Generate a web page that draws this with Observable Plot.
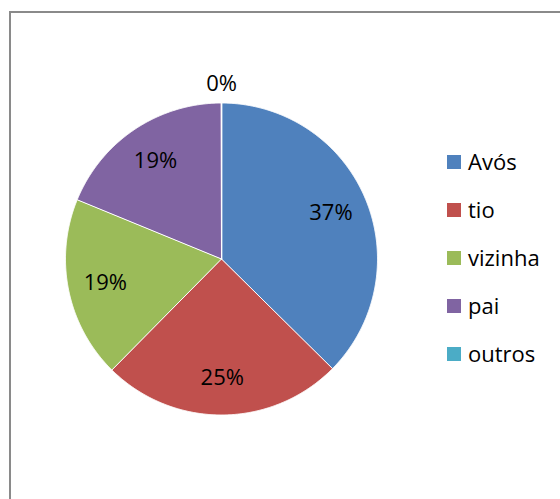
<!DOCTYPE html>
<html>
<head>
<meta charset="utf-8">
<script src="https://cdn.jsdelivr.net/npm/d3@7"></script>
<script src="https://cdn.jsdelivr.net/npm/@observablehq/plot@0.6"></script>
<style>
  html, body { margin: 0; padding: 0; background: #fff; overflow: hidden; }
  #wrap { position: relative; width: 560px; height: 499px; overflow: hidden; }
  #frame { position: absolute; left: 9px; top: 11px; width: 620px; height: 620px;
           border: 2px solid #8a8a8a; box-sizing: border-box; }
  #chart { position: absolute; left: 0; top: 0; }
  #legend { position: absolute; left: 447px; top: 143px; font-family: "Open Sans", sans-serif;
            font-size: 22px; color: #000; }
  .item { position: absolute; left: 0; height: 38px; white-space: nowrap; }
  .sw { position: absolute; left: 0; width: 14px; height: 14px; }
  .lb { position: absolute; left: 21px; line-height: 22px; }
</style>
</head>
<body>
<div id="wrap">
  <div id="frame"></div>
  <div id="chart"></div>
  <div id="legend"></div>
</div>
<script>
// Data
const categories = ["Avós", "tio", "vizinha", "pai", "outros"];
const values = [37.4, 25.0, 18.8, 18.8, 0];
const colors = ["#4F81BD", "#C0504D", "#9BBB59", "#8064A2", "#4BACC6"];

// Layout
const cx = 221, cy = 258.5, R = 156;

const arcs = d3.pie().sort(null).value(d => d)(values);

// Polygon points for each slice (in unit-radius coordinates)
const polys = [];
arcs.forEach((a, i) => {
  const cat = categories[i];
  polys.push({cat, x: 0, y: 0});
  const span = a.endAngle - a.startAngle;
  const n = Math.max(1, Math.ceil(span / 0.005));
  for (let k = 0; k <= n; k++) {
    const t = a.startAngle + span * k / n;
    polys.push({cat, x: Math.sin(t), y: Math.cos(t)});
  }
});

// Labels
const labels = arcs.map((a, i) => {
  const m = (a.startAngle + a.endAngle) / 2;
  const r = values[i] > 0 ? 0.76 : 1.12;
  return {x: r * Math.sin(m), y: r * Math.cos(m), text: Math.round(values[i]) + "%"};
});

const chart = Plot.plot({
  width: 560,
  height: 499,
  margin: 0,
  style: {background: "transparent", overflow: "visible"},
  x: {domain: [-1, 1], range: [cx - R, cx + R], axis: null},
  y: {domain: [-1, 1], range: [cy + R, cy - R], axis: null},
  color: {domain: categories, range: colors},
  marks: [
    Plot.line(polys, {x: "x", y: "y", z: "cat", fill: "cat", stroke: "white",
                      strokeWidth: 1, curve: "linear-closed"}),
    Plot.text(labels, {x: "x", y: "y", text: "text", fontSize: 22,
                       fontFamily: "Open Sans", fill: "black"})
  ]
});
document.getElementById("chart").appendChild(chart);

// Legend
const legend = document.getElementById("legend");
categories.forEach((c, i) => {
  const item = document.createElement("div");
  item.className = "item";
  item.style.top = (i * 48) + "px";
  const sw = document.createElement("div");
  sw.className = "sw";
  sw.style.top = "12px";
  sw.style.background = colors[i];
  const lb = document.createElement("div");
  lb.className = "lb";
  lb.style.top = "7px";
  lb.textContent = c;
  item.appendChild(sw);
  item.appendChild(lb);
  legend.appendChild(item);
});
</script>
</body>
</html>
